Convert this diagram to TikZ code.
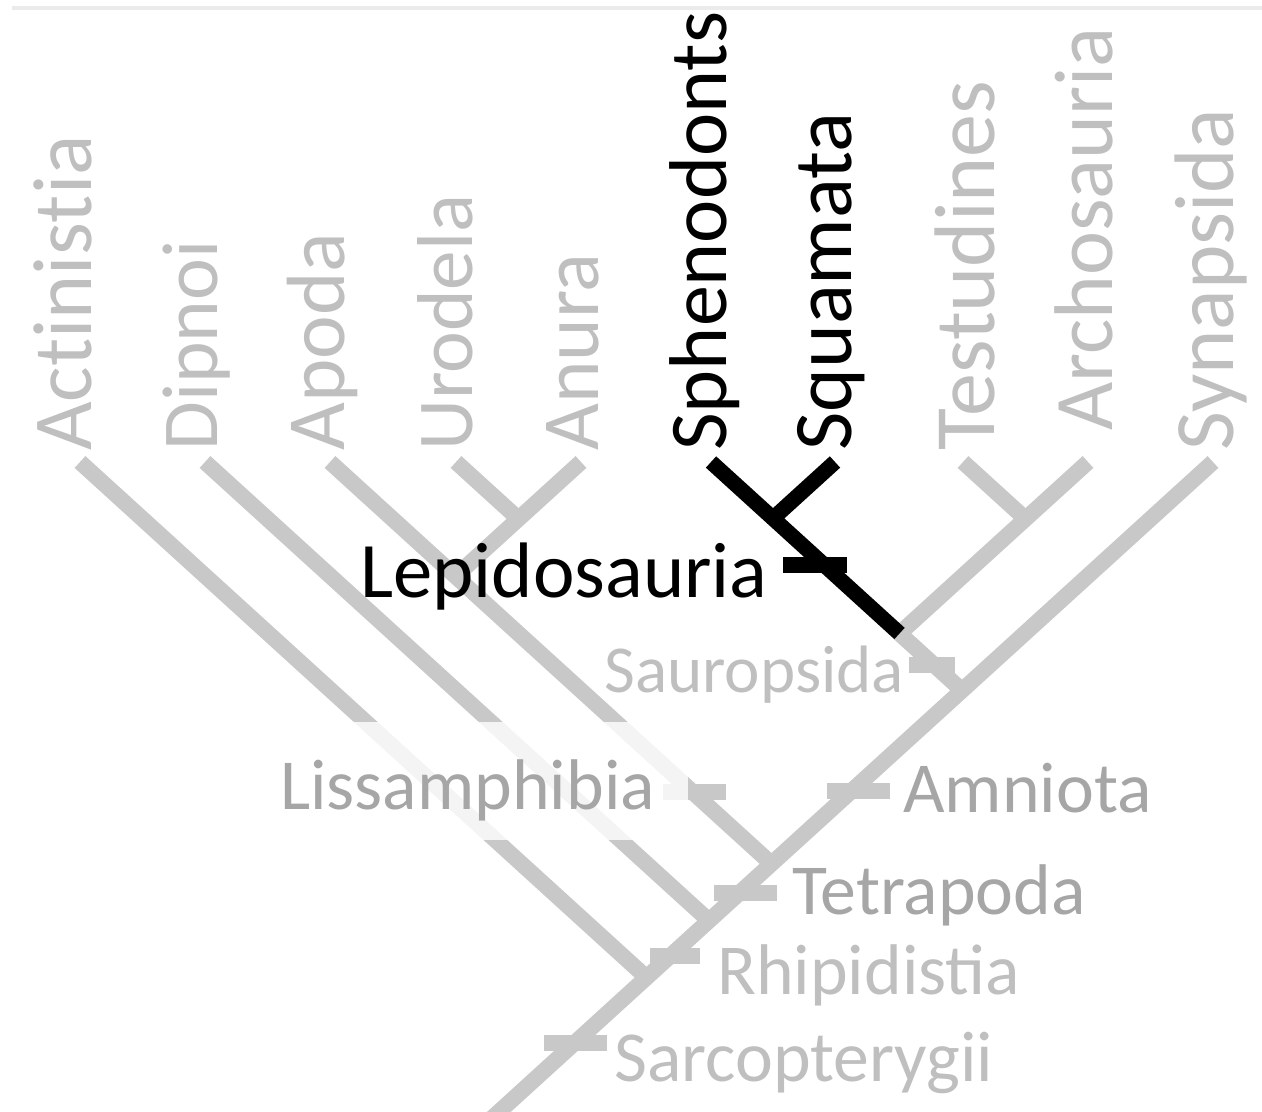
\documentclass[tikz,border=0pt]{standalone}
\usepackage{fontspec}
\setmainfont{Carlito}
\usetikzlibrary{calc}
\definecolor{branch}{HTML}{C8C8C8}
\definecolor{lbl}{HTML}{BFBFBF}
\definecolor{lbldark}{HTML}{A6A6A6}
\definecolor{topline}{HTML}{EBEBEB}
\newcommand{\fsz}[1]{\fontsize{#1}{#1}\selectfont}
\begin{document}
\begin{tikzpicture}[x=0.75pt,y=-0.75pt,
  branchline/.style={draw=branch,line width=12pt,line cap=butt},
  hiline/.style={draw=black,line width=11.5pt,line cap=butt},
  taxon/.style={rotate=90,anchor=base west,inner sep=0pt,font=\fsz{60.75},text=lbl},
  hitaxon/.style={taxon,text=black},
  clade/.style={anchor=base west,inner sep=0pt,font=\fsz{53.8},text=lbl},
  cladedark/.style={clade,text=lbldark},
  tickbar/.style={fill=branch,draw=none,minimum width=47.25pt,minimum height=12pt,inner sep=0pt},
]
\useasboundingbox (0,0) rectangle (1262,1112);
\fill[topline] (12,6) rectangle (1262,10);

% tips
\coordinate (tA)  at (80,462);
\coordinate (tD)  at (205,462);
\coordinate (tAp) at (330,462);
\coordinate (tU)  at (456,462);
\coordinate (tAn) at (581,462);
\coordinate (tSp) at (711,462);
\coordinate (tSq) at (835,462);
\coordinate (tT)  at (963,462);
\coordinate (tAr) at (1088,462);
\coordinate (tSy) at (1213,462);
% internal nodes
\coordinate (nUA)   at (518.5,518.9);
\coordinate (nLiss) at (455.5,576.2);
\coordinate (nTet)  at (771.5,863.8);
\coordinate (nRh)   at (709,920.6);
\coordinate (nSarc) at (646.5,977.5);
\coordinate (nSS)   at (773,518.4);
\coordinate (nTA)   at (1025.5,518.9);
\coordinate (nSaur) at (899.5,633.5);
\coordinate (nAmn)  at (962,690.4);
\coordinate (root)  at (468,1140);

% grey branches
\begin{scope}
\clip (0,0) rectangle (1262,1112);
\draw[branchline] (tSy) -- (root);
\end{scope}
\draw[branchline] (tA) -- (nSarc);
\draw[branchline] (tD) -- (nRh);
\draw[branchline] (tAp) -- (nTet);
\draw[branchline] (tU) -- (nUA);
\draw[branchline] (tAn) -- (nLiss);
\draw[branchline] (tT) -- (nTA);
\draw[branchline] (tAr) -- (nSaur);
\draw[branchline] (nSaur) -- (nAmn);

% grey ticks
\node[tickbar] (kLiss) at (694.5,792) {};
\node[tickbar] (kAmn)  at (858.5,790.5) {};
\node[tickbar] (kTet)  at (745.5,893) {};
\node[tickbar,minimum width=37.5pt] (kRh) at (675,955.5) {};
\node[tickbar] (kSarc) at (575.5,1043) {};
\node[tickbar,minimum width=34.5pt] (kSaur) at (932,665) {};

% highlighted lepidosaur branches
\draw[hiline] (tSp) -- (nSaur);
\draw[hiline] (tSq) -- (nSS);
\node[tickbar,fill=black,minimum width=48pt] (kLepi) at (815,565) {};

% translucent backing of the Lissamphibia label
\fill[white,opacity=0.8] (265,722) rectangle (688,840);

% tip labels
\node[taxon,font=\fsz{63}]   (lA)  at (91,451)   {Act\kern0pt inis\kern0pt t\kern0pt ia};
\node[taxon,font=\fsz{59.5}] (lD)  at (217.5,451) {Dipnoi};
\node[taxon,font=\fsz{62}]   (lAp) at (344,451)  {Apoda};
\node[taxon,font=\fsz{59.4}] (lU)  at (472.5,451) {Urodela};
\node[taxon,font=\fsz{60.75}] (lAn) at (598,451)  {Anura};
\node[hitaxon,font=\fsz{61.5}] (lSp) at (726,451)  {Sphenodonts};
\node[hitaxon,font=\fsz{62.5}] (lSq) at (851.5,451) {Squamata};
\node[taxon,font=\fsz{64.5}] (lT)  at (994,451)  {Testudines};
\node[taxon,font=\fsz{62.5}] (lAr) at (1112,431) {Archosauria};
\node[taxon,font=\fsz{63.4}] (lSy) at (1233,451) {Synapsida};

% clade labels
\node[clade,text=black,font=\fsz{59}] (cLepi) at (360,597) {Lepidosauria};
\node[clade,font=\fsz{50.3}] (cSaur) at (604,692) {Sauropsida};
\node[cladedark] (cLiss) at (280,809)  {Lissamphibia};
\node[cladedark] (cAmn)  at (903,812)  {Amniota};
\node[cladedark] (cTet)  at (792,914)  {Tetrapoda};
\node[clade]     (cRh)   at (717,994)  {Rhipidistia};
\node[clade]     (cSarc) at (614,1081) {Sarcopterygii};
\end{tikzpicture}
\end{document}
